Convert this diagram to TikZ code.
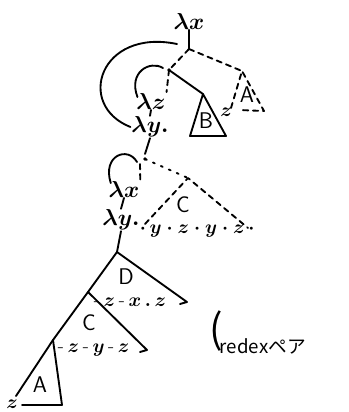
\documentclass[tikz,border=0pt]{standalone}
\usepackage{fontspec}
\newfontfamily\jpfont{Noto Sans CJK JP}
\usetikzlibrary{calc}
\tikzstyle{every node}=[font=\fontsize{13}{15}\selectfont,inner sep=0pt]
\tikzstyle{every path}=[line width=1.4pt,line cap=round,line join=round]

\begin{document}
\begin{tikzpicture}[x=0.75pt,y=-0.75pt]
		\tikzstyle{dashline} = [dash pattern=on 4pt off 3.5pt]
		\tikzstyle{dotline} = [dash pattern=on 1.5pt off 5pt]
		\tikzstyle{lam} = [font=\fontsize{19}{21}\selectfont\boldmath]
		\tikzstyle{tri} = [font=\fontsize{17}{19}\selectfont\sffamily]
		\tikzstyle{row} = [font=\fontsize{15}{17}\selectfont\boldmath,anchor=west]
		\useasboundingbox (0,0) rectangle (349,412);
		
		% upper part
		\node[lam] (lx1) at (189,21) {$\lambda x$};
		\coordinate (j1) at (189,49);
		\coordinate (j2) at (169,70);
		\node[lam] (lz) at (151,101) {$\lambda z$};
		\node[lam] (ly1) at (150,127) {$\lambda y.$};
		\coordinate (j3) at (145,159);
		\fill (j2) circle (1.8);
		\fill (j3) circle (1.8);
		
		\draw (lx1.south) -- (j1);
		\draw[dashline] (j1) -- (j2);
		\draw (lz.south) -- (ly1.north);
		\draw (ly1.south) -- ($(j3)+(0,-5)$);
		
		% triangle A (dashed)
		\coordinate (at) at (242,71);
		\coordinate (al) at (231,108);
		\coordinate (ar) at (264,111);
		\draw[dashline] (j1) -- (at);
		\draw[dashline] (al) -- (at) -- (ar) -- ($(al)+(8,2)$);
		\node[row,anchor=center] (zA) at (226,112) {$z$};
		\node[tri] (lA) at (247,95) {A};
		
		% triangle B
		\coordinate (bt) at (203,94);
		\draw (j2) -- (bt);
		\draw (bt) -- (190,136) -- (226,136) -- cycle;
		\node[tri] (lB) at (206,121) {B};
		
		\draw[dashline] (j2) -- (lz.north east);
		\draw (177,44) .. controls (100,28) and (75,105) .. (ly1.west);
		\draw ($(lz.west)+(2,-4)$) .. controls (128,72) and (150,60) .. ($(j2)+(-6,-2)$);
		
		% triangle C (dashed)
		\coordinate (ct) at (188,178);
		\coordinate (cl) at (145,224);
		\coordinate (cr) at (248,228);
		\draw[dotline] (j3) -- (ct);
		\draw[dashline] (cl) -- (ct) -- (cr);
		\node[tri] (lC1) at (183,205) {C};
		\node[row] (rC1) at (139,231) {$\cdot\,y\cdot z\cdot y\cdot z\,\cdot$};
		
		% middle part
		\node[lam] (lx2) at (124,189) {$\lambda x$};
		\node[lam] (ly2) at (121,220) {$\lambda y.$};
		\draw[dashline] ($(j3)+(-5,5)$) -- (lx2.north east);
		\draw ($(lx2.north west)+(3,3)$) .. controls (102,155) and (128,146) .. ($(j3)+(-8,3)$);
		\draw (lx2.south) -- (ly2.north);
		
		% lower part
		\coordinate (v1) at (117,252);
		\coordinate (v2) at (88,292);
		\coordinate (v3) at (53,340);
		\coordinate (dr) at (187,302);
		\coordinate (cr2) at (147,350);
		\coordinate (ar2) at (62,405);
		\draw (ly2.south) -- (v1);
		\draw (v1) -- (v2) -- (v3) -- (16,396);
		\draw (v1) -- (dr) -- ++(-7,2);
		\draw (v2) -- (cr2) -- ++(-7,2);
		\draw (v3) -- (ar2) -- (22,405);
		\node[tri] (lD) at (126,277) {D};
		\node[row] (rD) at (93,302) {$\mbox{-}\,z\,\mbox{-}\,x\,.\,z$};
		\node[tri] (lC2) at (89,323) {C};
		\node[row] (rC2) at (57,350) {$\mbox{-}\,z\,\mbox{-}\,y\,\mbox{-}\,z$};
		\node[tri] (lA2) at (40,385) {A};
		\node[row,anchor=center] (zA2) at (12,404) {$z$};
		
		% note
		\node[font=\fontsize{30}{30}\selectfont\jpfont] (br) at (216,331) {(};
		\node[font=\fontsize{14}{16}\selectfont\jpfont,anchor=west] (rx) at (219,346) {redexペア};
		
	\end{tikzpicture}
\end{document}
